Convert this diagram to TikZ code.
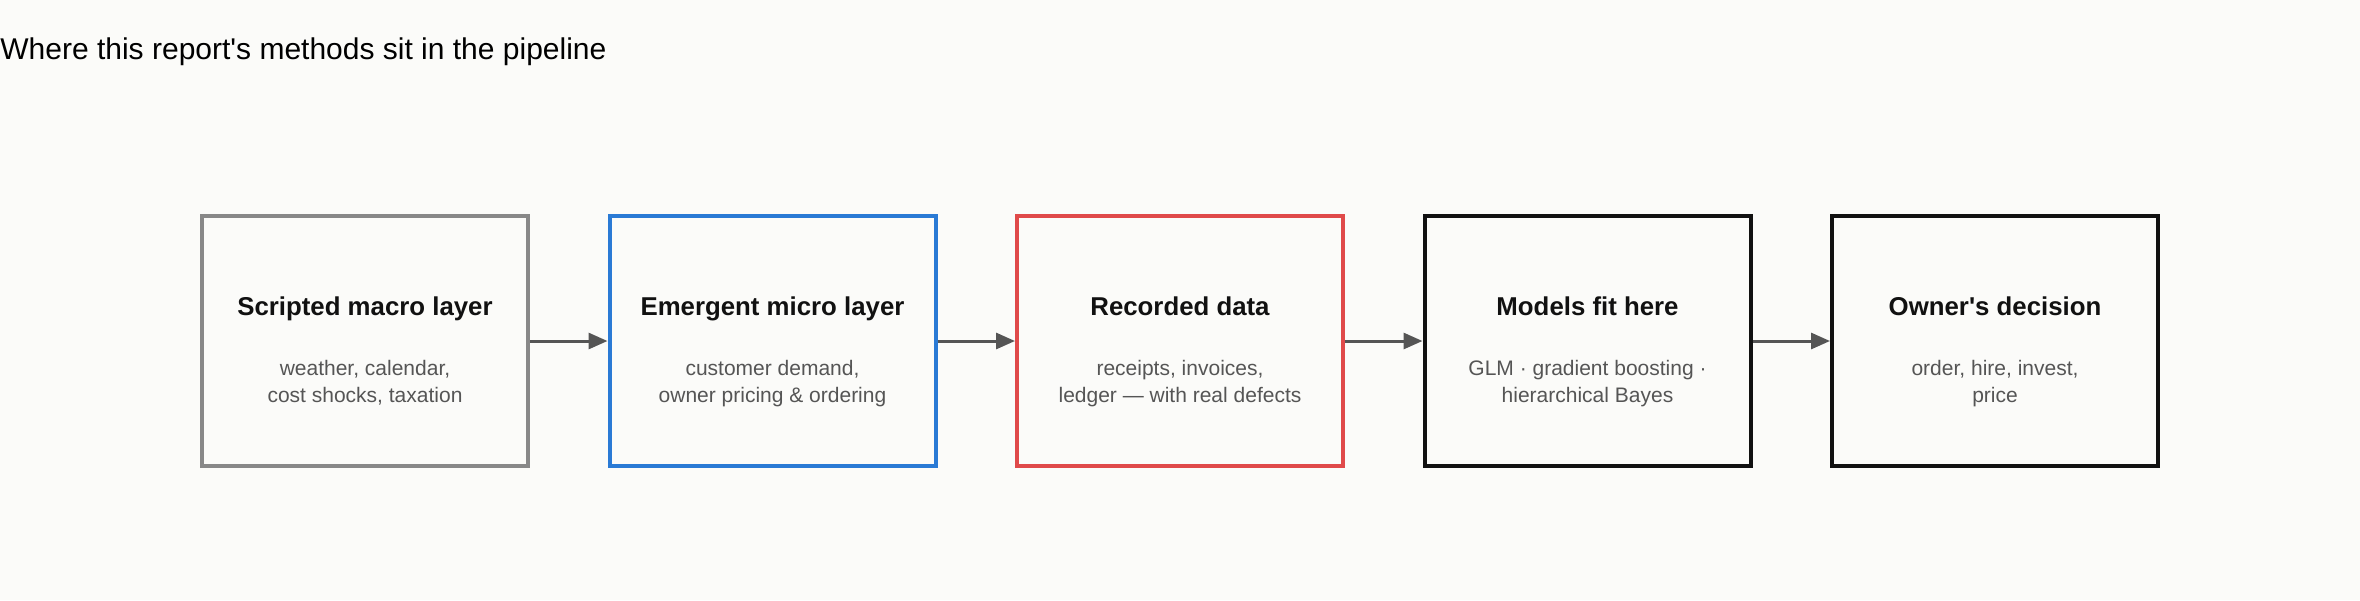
\documentclass[tikz,border=0pt]{standalone}
\usepackage{fontspec}
\setmainfont{Liberation Sans}
\usetikzlibrary{arrows.meta}
\definecolor{bg}{HTML}{FBFBF9}
\definecolor{cgray}{HTML}{888888}
\definecolor{cblue}{HTML}{2A7AD5}
\definecolor{cred}{HTML}{E04A4A}
\definecolor{cblack}{HTML}{111111}
\definecolor{subtxt}{HTML}{555555}
\definecolor{arr}{HTML}{555555}
\begin{document}
\begin{tikzpicture}[x=0.5pt,y=-0.5pt,
  stagebox/.style={draw, line width=2pt, minimum width=163pt, minimum height=125pt, inner sep=0pt},
  headtxt/.style={font=\fontsize{12.9}{15}\selectfont\bfseries, text=cblack, anchor=base},
  subtext/.style={font=\fontsize{10.5}{13.5}\selectfont, text=subtxt, align=center, anchor=base},
  flow/.style={draw=arr, line width=1.5pt, -{Triangle[length=9.5pt,width=8pt]}}]
\fill[bg] (0,0) rectangle (2360,600);
\useasboundingbox (0,0) rectangle (2360,600);
\node[anchor=base west, inner sep=0pt, font=\fontsize{15}{18}\selectfont, text=black] (title) at (0,59.5) {Where this report\textquotesingle s methods sit in the pipeline};
\foreach \i/\x/\c/\h/\a/\b in {
  1/202/cgray/Scripted macro layer/{weather, calendar,}/{cost shocks, taxation},
  2/609.5/cblue/Emergent micro layer/{customer demand,}/{owner pricing \& ordering},
  3/1017/cred/Recorded data/{receipts, invoices,}/{ledger — with real defects},
  4/1424.5/cblack/Models fit here/{GLM · gradient boosting ·}/{hierarchical Bayes},
  5/1832/cblack/Owner\textquotesingle s decision/{order, hire, invest,}/{price}} {
  \node[stagebox, draw=\c] (b\i) at (\x+163,341) {};
  \node[headtxt] (h\i) at (\x+163,315) {\h};
  \node[subtext] (s\i) at (\x+163,375) {\a};
  \node[subtext] (t\i) at (\x+163,402) {\b};
}
\foreach \i/\j in {1/2,2/3,3/4,4/5} {
  \draw[flow] (b\i.east) -- (b\j.west);
}
\end{tikzpicture}
\end{document}
